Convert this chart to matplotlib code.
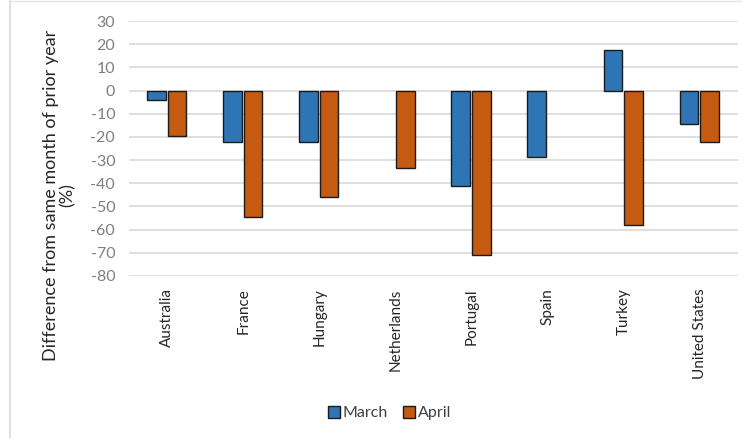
import numpy as np
import matplotlib
matplotlib.use("Agg")
import matplotlib.pyplot as plt
from matplotlib.lines import Line2D
from matplotlib.patches import Patch

countries = ["Australia", "France", "Hungary", "Netherlands", "Portugal", "Spain",
             "Turkey", "United States"]
march = [-4, -22.3, -22.3, np.nan, -41.2, -28.6, 17.5, -14.3]
april = [-19.6, -54.4, -46, -33.6, -70.8, np.nan, -58, -22.2]
yticks = list(range(-80, 31, 10))

plt.rcParams["font.family"] = ["Lato", "DejaVu Sans"]

fig = plt.figure(figsize=(7.42, 4.38), dpi=100)
ax = fig.add_axes([0.174, 0.370, 0.82, 0.582])

x = np.arange(len(countries))
w = 0.245
ax.bar(x - 0.14, march, w, color="#2e75b6", edgecolor="#1a1a1a", lw=1, zorder=3)
ax.bar(x + 0.13, april, w, color="#c55a11", edgecolor="#1a1a1a", lw=1, zorder=3)

ax.set_xlim(-0.5, len(countries) - 0.5)
ax.set_ylim(-80, 30)
ax.set_yticks(yticks)
ax.set_yticklabels([str(v) for v in yticks], color="#7f7f7f", fontsize=11.5)
ax.set_xticks(x)
ax.set_xticklabels(countries, rotation=90, fontsize=11, color="#262626", va="top")
ax.tick_params(length=0, axis="y", pad=10)
ax.tick_params(length=0, axis="x", pad=9)
ax.grid(axis="y", color="#d9d9d9", lw=1.2, zorder=0)
for s in ax.spines.values():
    s.set_visible(False)

# axis title sits lower than the plot centre, as in the original
fig.text(0.080, 0.555, "Difference from same month of prior year\n(%)", rotation=90,
         ha="center", va="center", multialignment="center", fontsize=13,
         color="#262626", linespacing=1.0)

handles = [Patch(facecolor="#2e75b6", edgecolor="#1a1a1a", label="March"),
           Patch(facecolor="#c55a11", edgecolor="#1a1a1a", label="April")]
fig.legend(handles=handles, loc="center", bbox_to_anchor=(0.525, 0.057), ncol=2,
           frameon=False, fontsize=11.5, handlelength=0.75, handleheight=0.75,
           handletextpad=0.15, columnspacing=1.0, labelcolor="#404040")

# light chart frame
fig.add_artist(Line2D([0.014, 0.014], [0, 1], transform=fig.transFigure,
                      color="#d9d9d9", lw=1.2))
fig.add_artist(Line2D([0.014, 1], [0.998, 0.998], transform=fig.transFigure,
                      color="#e6e6e6", lw=1))

fig.savefig("out.png", dpi=100)
